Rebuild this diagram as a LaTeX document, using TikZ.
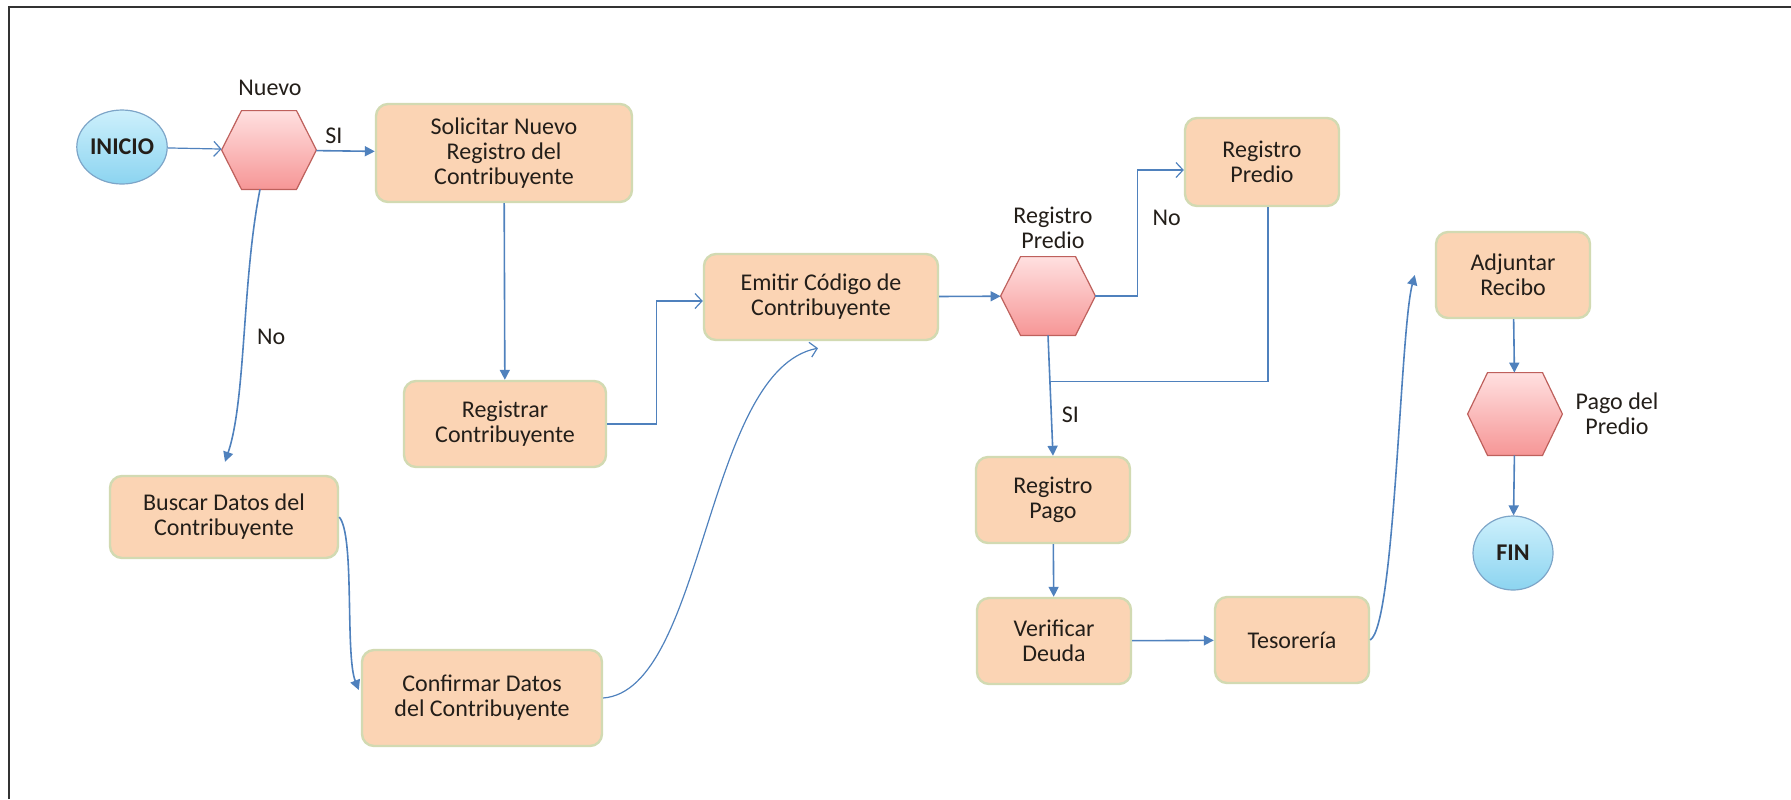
\documentclass[tikz,border=0pt]{standalone}
\usepackage{fontspec}
\setmainfont{Carlito}
\usetikzlibrary{arrows.meta,shapes.geometric,calc}

\definecolor{flecha}{RGB}{79,129,189}
\definecolor{caja}{RGB}{251,212,180}
\definecolor{borde}{RGB}{210,218,178}
\definecolor{rosa1}{RGB}{255,224,224}
\definecolor{rosa2}{RGB}{246,150,150}
\definecolor{rojo}{RGB}{190,96,92}
\definecolor{celeste1}{RGB}{205,240,252}
\definecolor{celeste2}{RGB}{140,212,240}
\definecolor{azulb}{RGB}{125,165,200}
\definecolor{texto}{RGB}{35,30,25}

\begin{document}
\begin{tikzpicture}[x=0.5pt,y=-0.5pt,
    font=\fontsize{12}{12.5}\selectfont,
    proceso/.style={draw=borde,line width=1.2pt,rounded corners=6pt,fill=caja,align=center,text=texto,inner sep=2pt,minimum width=77pt,minimum height=43pt},
    terminal/.style={ellipse,draw=azulb,line width=0.6pt,top color=celeste1,bottom color=celeste2,minimum width=40pt,minimum height=37pt,inner sep=0pt,text=texto,font=\fontsize{12}{12.5}\selectfont\bfseries},
    decision/.style={minimum width=47pt,minimum height=39pt,inner sep=0pt},
    etiq/.style={text=texto,align=center},
    flujo/.style={draw=flecha,line width=0.8pt,-{Triangle[length=5pt,width=5pt]}},
    flujoab/.style={draw=flecha,line width=0.6pt,-{Straight Barb[length=3.5pt,width=7.5pt]}},
    linea/.style={draw=flecha,line width=0.6pt}]
    \useasboundingbox (0,0) rectangle (1791,799);
    % marco
    \draw[black!80,line width=1pt] (9,799) -- (9,7) -- (1791,7);

    % inicio y primera decision
    \node[terminal] (inicio) at (122,147) {INICIO};
    \node[decision] (nuevo) at (269,150) {};
    \node[etiq] (nuevolbl) at (270,88) {Nuevo};
    \node[proceso,minimum width=128pt,minimum height=49pt] (solicitar) at (504,153) {Solicitar Nuevo\\Registro del\\Contribuyente};
    \node[proceso,minimum width=101pt] (registrar) at (505,424) {Registrar\\Contribuyente};
    \node[proceso,minimum width=114pt,minimum height=41pt] (buscar) at (224,517) {Buscar Datos del\\Contribuyente};
    \node[proceso,minimum width=120pt,minimum height=48pt] (confirmar) at (482,698) {Confirmar Datos\\del Contribuyente};
    \node[proceso,minimum width=117pt] (emitir) at (821,297) {Emitir Código de\\Contribuyente};

    % registro del predio
    \node[decision] (regpre) at (1048,296) {};
    \node[etiq] (regprelbl) at (1053,228) {Registro\\Predio};
    \node[proceso,minimum height=44pt] (regbox) at (1262,162) {Registro\\Predio};
    \node[proceso] (regpago) at (1053,500) {Registro\\Pago};
    \node[proceso] (verificar) at (1054,641) {Verificar\\Deuda};
    \node[proceso] (tesoreria) at (1292,640) {Tesorería};
    \node[proceso] (adjuntar) at (1513,275) {Adjuntar\\Recibo};
    \node[decision,minimum height=41pt] (pago) at (1515,414) {};
    \node[etiq] (pagolbl) at (1617,414) {Pago del\\Predio};
    \node[terminal] (fin) at (1513,553) {FIN};

    % hexagonos
    \foreach \h in {nuevo,regpre,pago}
        \draw[draw=rojo,line width=0.6pt,top color=rosa1,bottom color=rosa2]
            (\h.west) -- ($(\h.north west)!.21!(\h.north east)$) -- ($(\h.north west)!.79!(\h.north east)$)
            -- (\h.east) -- ($(\h.south west)!.79!(\h.south east)$) -- ($(\h.south west)!.21!(\h.south east)$) -- cycle;

    % flechas
    \draw[flujoab] (inicio) -- (nuevo);
    \draw[flujo] (nuevo) -- node[etiq,above,pos=0.3] (si1) {SI} (solicitar);
    \draw[flujo] ($(nuevo.south)+(-9,0)$) .. controls (242,280) and (246,400) .. node[etiq,pos=0.5,right=3pt] (no1) {No} ($(buscar.north)+(1,-13)$);
    \draw[flujo] (solicitar) -- (registrar);
    \draw[flujoab] (registrar.east) -- ++(49,0) |- ([yshift=-2pt]emitir.west);
    \draw[flujo] (buscar.east) .. controls (355,535) and (345,655) .. ($(confirmar.west)+(-2,-8)$);
    \draw[flujoab] (confirmar.east) .. controls (705,690) and (705,370) .. ($(emitir.south)+(-3,7)$);
    \draw[flujo] (emitir) -- (regpre);
    \draw[flujoab] (regpre.east) -- ++(42,0) |- node[etiq,pos=0.31,right=4pt] (no2) {No} ([yshift=-4pt]regbox.west);
    \draw[flujo] (regpre.south) -- node[etiq,pos=0.66,right=1.5pt] (si2) {SI} (regpago.north);
    \coordinate (cruce) at ($(regpre.south)!0.38!(regpago.north)$);
    \draw[linea] ([xshift=3pt]regbox.south) |- (cruce);
    \draw[flujo] (regpago) -- (verificar);
    \draw[flujo] (verificar) -- (tesoreria);
    \draw[flujo] (tesoreria.east) .. controls (1395,625) and (1400,330) .. ($(adjuntar.west)+(-20,0)$);
    \draw[flujo] (adjuntar) -- (pago);
    \draw[flujo] (pago) -- (fin);
\end{tikzpicture}
\end{document}
